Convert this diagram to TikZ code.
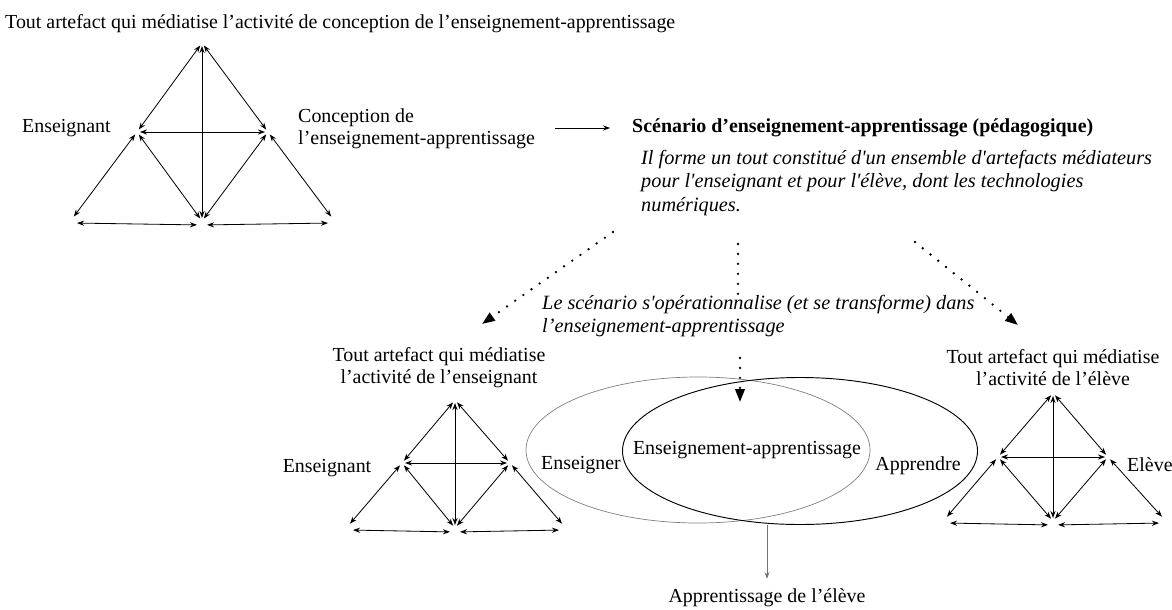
\documentclass[tikz,border=0pt]{standalone}
\usepackage{fontspec}
\setmainfont{Liberation Serif}
\usetikzlibrary{arrows.meta, positioning, shapes.geometric}

\begin{document}
\begin{tikzpicture}[
    x=0.03cm, y=-0.03cm,
    lbl/.style={inner sep=0pt, align=center, font=\fontsize{17}{18.8}\selectfont},
    note/.style={inner sep=0pt, align=left, font=\fontsize{17.3}{19.8}\selectfont\itshape},
    tri/.style={<->, >={Stealth[length=6pt, width=4.4pt]}, line width=0.7pt, shorten <=2.6pt, shorten >=2.6pt},
    base/.style={tri, shorten <=4.3pt, shorten >=4.3pt},
    arrow/.style={-{Stealth[length=6pt, width=4.5pt]}, line width=0.8pt},
    grayarrow/.style={-{Stealth[length=5.5pt, width=4.2pt]}, line width=0.7pt, draw=gray!90!black},
    dotline/.style={line width=2.2pt, line cap=round, dash pattern=on 0pt off 8.5pt},
    dotarrow/.style={dotline, -{Triangle[length=11pt, width=8pt]}},
    zone/.style={draw, ellipse, inner sep=0pt, line width=0.8pt},
]
\useasboundingbox (0,0) rectangle (1172,609);

% Conception (top left)
\node[lbl, anchor=west] (title) at (5,24) {Tout artefact qui médiatise l’activité de conception de l’enseignement-apprentissage};
\node[lbl, anchor=west] (ensA) at (22,128) {Enseignant};
\node[lbl, anchor=west, align=left] (conception) at (298,129) {Conception de\\l’enseignement-apprentissage};

\coordinate (aTop) at (202,43);
\coordinate (aML) at (137,132);
\coordinate (aMR) at (268,132);
\coordinate (aBL) at (72,219);
\coordinate (aBC) at (202,221);
\coordinate (aBR) at (333,219);
\draw[tri] (aTop) -- (aML);
\draw[tri] (aTop) -- (aMR);
\draw[tri] (aTop) -- (aBC);
\draw[tri] (aML) -- (aMR);
\draw[tri] (aML) -- (aBL);
\draw[tri] (aML) -- (aBC);
\draw[tri] (aMR) -- (aBC);
\draw[tri] (aMR) -- (aBR);
\draw[base] ([yshift=-3.4pt]aBL) -- ([yshift=-3.4pt]aBC);
\draw[base] ([yshift=-3.4pt]aBC) -- ([yshift=-3.4pt]aBR);

% Scenario
\node[lbl, anchor=west, font=\fontsize{17}{18.8}\selectfont\bfseries] (scenario) at (632,128) {Scénario d’enseignement-apprentissage (pédagogique)};
\node[note, anchor=west] (scendesc) at (641,183) {Il forme un tout constitué d\textquotesingle un ensemble d\textquotesingle artefacts médiateurs\\pour l\textquotesingle enseignant et pour l\textquotesingle élève, dont les technologies\\numériques.};
\draw[arrow, shorten <=0.6cm, shorten >=0.66cm] (conception.east |- scenario.west) -- (scenario.west);

% Dotted links
\coordinate (sL) at (613,232);
\coordinate (tL) at (482,324);
\coordinate (sM) at (738,244);
\coordinate (mM) at (740,358);
\coordinate (tM) at (740,402);
\coordinate (sR) at (915,242);
\coordinate (tR) at (1018,325);
\node[note, anchor=west] (oper) at (542,316) {Le scénario s\textquotesingle opérationnalise (et se transforme) dans\\l’enseignement-apprentissage};
\draw[dotarrow] (sL) -- (tL);
\draw[dotline] (sM) -- (sM |- oper.north);
\draw[dotarrow] (mM) -- (tM);
\draw[dotarrow] (sR) -- (tR);

% Enseignant (bottom left)
\node[lbl] (capB) at (439,368) {Tout artefact qui médiatise\\l’activité de l’enseignant};
\node[lbl] (ensB) at (327,468) {Enseignant};

\coordinate (bTop) at (455,400);
\coordinate (bML) at (402,463);
\coordinate (bMR) at (510,463);
\coordinate (bBL) at (348,526);
\coordinate (bBC) at (455,528);
\coordinate (bBR) at (564,526);
\draw[tri] (bTop) -- (bML);
\draw[tri] (bTop) -- (bMR);
\draw[tri] (bTop) -- (bBC);
\draw[tri] (bML) -- (bMR);
\draw[tri] (bML) -- (bBL);
\draw[tri] (bML) -- (bBC);
\draw[tri] (bMR) -- (bBC);
\draw[tri] (bMR) -- (bBR);
\draw[base] ([yshift=-3.4pt]bBL) -- ([yshift=-3.4pt]bBC);
\draw[base] ([yshift=-3.4pt]bBC) -- ([yshift=-3.4pt]bBR);

% Ellipses
\node[zone, draw=gray, line width=0.6pt, minimum width=10.32cm, minimum height=4.38cm] (enseigner) at (698,450) {};
\node[zone, minimum width=10.65cm, minimum height=4.41cm] (ensapp) at (800,451) {};
\node[lbl] (enstxt) at (581,465) {Enseigner};
\node[lbl] (eatxt) at (747,450) {Enseignement-apprentissage};
\node[lbl] (apptxt) at (918,466) {Apprendre};
\node[lbl] (apprel) at (767,598) {Apprentissage de l’élève};
\draw[grayarrow, shorten >=0.3cm] (apprel.north |- ensapp.south) -- (apprel.north);

% Eleve (bottom right)
\node[lbl] (capC) at (1053,368) {Tout artefact qui médiatise\\l’activité de l’élève};
\node[lbl, anchor=west] (eleve) at (1127,465) {Elève};

\coordinate (cTop) at (1053,393);
\coordinate (cML) at (998,457);
\coordinate (cMR) at (1108,457);
\coordinate (cBL) at (945,519);
\coordinate (cBC) at (1053,521);
\coordinate (cBR) at (1164,519);
\draw[tri] (cTop) -- (cML);
\draw[tri] (cTop) -- (cMR);
\draw[tri] (cTop) -- (cBC);
\draw[tri] (cML) -- (cMR);
\draw[tri] (cML) -- (cBL);
\draw[tri] (cML) -- (cBC);
\draw[tri] (cMR) -- (cBC);
\draw[tri] (cMR) -- (cBR);
\draw[base] ([yshift=-3.4pt]cBL) -- ([yshift=-3.4pt]cBC);
\draw[base] ([yshift=-3.4pt]cBC) -- ([yshift=-3.4pt]cBR);

\end{tikzpicture}
\end{document}
